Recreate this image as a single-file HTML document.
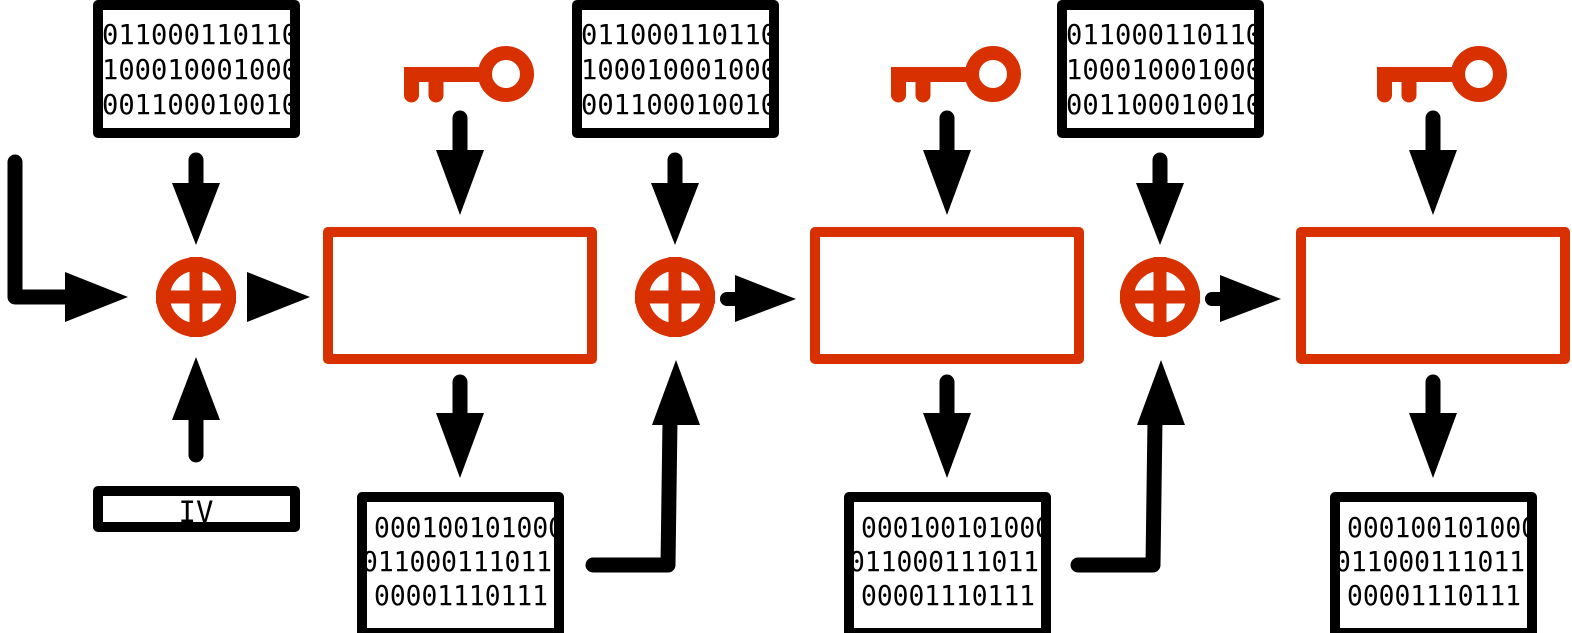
<!DOCTYPE html>
<html><head><style>html,body{margin:0;padding:0;background:#fff;}svg{display:block}</style></head>
<body>
<svg width="1572" height="633" viewBox="0 0 1572 633" xmlns="http://www.w3.org/2000/svg">
<defs>
<clipPath id="cp"><rect x="103" y="10" width="187" height="118"/></clipPath>
<clipPath id="cc"><rect x="367" y="502" width="187" height="121"/></clipPath>
<g id="ptx">
  <rect x="98" y="5" width="197" height="128" fill="#fff" stroke="#000" stroke-width="10" stroke-linejoin="round"/>
  <g clip-path="url(#cp)" font-family="'DejaVu Sans Mono','Liberation Mono',monospace" font-size="28" fill="#000">
    <text x="102" y="44" textLength="196" lengthAdjust="spacingAndGlyphs">011000110110</text>
    <text x="102" y="79" textLength="196" lengthAdjust="spacingAndGlyphs">100010001000</text>
    <text x="102" y="114" textLength="196" lengthAdjust="spacingAndGlyphs">001100010010</text>
  </g>
  <line x1="196" y1="160" x2="196" y2="190" stroke="#000" stroke-width="15" stroke-linecap="round"/>
  <polygon points="172,183 220,183 196,245" fill="#000"/>
  <circle cx="196" cy="297" r="33" fill="#fff" stroke="#d93000" stroke-width="14"/>
  <line x1="196" y1="257" x2="196" y2="337" stroke="#d93000" stroke-width="13"/>
  <line x1="156" y1="297" x2="236" y2="297" stroke="#d93000" stroke-width="13"/>
</g>
<g id="enc">
  <path d="M411.5,82 V95 M436,82 V95" stroke="#d93000" stroke-width="15" stroke-linecap="round"/>
  <rect x="404" y="67" width="85" height="15" fill="#d93000"/>
  <rect x="404" y="67" width="15" height="20" rx="6" fill="#d93000"/>
  <circle cx="506" cy="74" r="21" fill="none" stroke="#d93000" stroke-width="14"/>
  <line x1="460" y1="118" x2="460" y2="155" stroke="#000" stroke-width="15" stroke-linecap="round"/>
  <polygon points="436,150 484,150 460,215" fill="#000"/>
  <rect x="328" y="232" width="264" height="127" fill="#fff" stroke="#d93000" stroke-width="10" stroke-linejoin="round"/>
  <line x1="460" y1="382" x2="460" y2="420" stroke="#000" stroke-width="15" stroke-linecap="round"/>
  <polygon points="436,413 484,413 460,478" fill="#000"/>
  <rect x="362" y="497" width="197" height="136" fill="#fff" stroke="#000" stroke-width="10" stroke-linejoin="round"/>
  <g clip-path="url(#cc)" font-family="'DejaVu Sans Mono','Liberation Mono',monospace" font-size="28" fill="#000">
    <text x="374" y="537" textLength="190" lengthAdjust="spacingAndGlyphs">000100101000</text>
    <text x="362" y="571" textLength="190" lengthAdjust="spacingAndGlyphs">011000111011</text>
    <text x="374" y="605" textLength="174" lengthAdjust="spacingAndGlyphs">00001110111</text>
  </g>
</g>
<g id="link">
  <path d="M593,565 H668 L670,420" fill="none" stroke="#000" stroke-width="15" stroke-linecap="round" stroke-linejoin="round"/>
  <polygon points="652,425 700,425 676,360" fill="#000"/>
  <circle cx="727" cy="299" r="7" fill="#000"/>
  <rect x="727" y="292" width="10" height="14" fill="#000"/>
  <polygon points="735,275 735,322 796,299" fill="#000"/>
</g>
</defs>

<use href="#ptx"/>
<use href="#enc"/>
<path d="M15,162 V297 H70" fill="none" stroke="#000" stroke-width="15" stroke-linecap="round" stroke-linejoin="round"/>
<polygon points="65,272 65,322 128,297" fill="#000"/>
<polygon points="247,272 247,322 310,297" fill="#000"/>
<line x1="196" y1="415" x2="196" y2="455" stroke="#000" stroke-width="15" stroke-linecap="round"/>
<polygon points="172,420 220,420 196,357" fill="#000"/>
<rect x="98" y="491" width="197" height="36" fill="#fff" stroke="#000" stroke-width="10" stroke-linejoin="round"/>
<text x="196" y="522" text-anchor="middle" font-family="'DejaVu Sans Mono','Liberation Mono',monospace" font-size="29" fill="#000">IV</text>

<use href="#ptx" x="479"/>
<use href="#link"/>
<use href="#enc" x="487"/>

<use href="#ptx" x="964"/>
<use href="#link" x="485"/>
<use href="#enc" x="973"/>
</svg>
</body></html>
